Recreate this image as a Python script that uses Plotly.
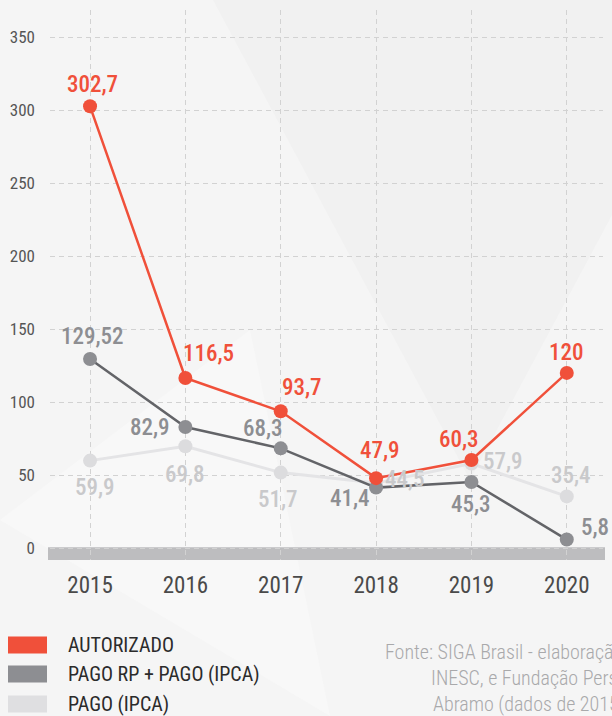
import plotly.graph_objects as go

W, H = 612, 716
ML, MR, MT, MB = 50, 9, 10, 156

anos = [2015, 2016, 2017, 2018, 2019, 2020]
autorizado = [302.7, 116.5, 93.7, 47.9, 60.3, 120]
pago_rp = [129.52, 82.9, 68.3, 41.4, 45.3, 5.8]
pago_ipca = [59.9, 69.8, 51.7, 44.5, 57.9, 35.4]
y_ticks = [0, 50, 100, 150, 200, 250, 300, 350]

FONT = "Roboto Condensed, Liberation Sans Narrow, DejaVu Sans Condensed, sans-serif"
RED = "#f0503a"
DARK_LINE = "#636468"
DARK_MK = "#8d8e92"
LIGHT_LINE = "#e4e4e6"
LIGHT_MK = "#dcdcde"


def px(x):
    return (x - ML) / (W - ML - MR)


def py(y):
    return (H - MB - y) / (H - MT - MB)


def fmt(v):
    return ("%g" % v).replace(".", ",")


fig = go.Figure()

series = [
    ("PAGO (IPCA)", pago_ipca, LIGHT_LINE, LIGHT_MK, 3),
    ("PAGO RP + PAGO (IPCA)", pago_rp, DARK_LINE, DARK_MK, 2.5),
    ("AUTORIZADO", autorizado, RED, RED, 2.5),
]
for name, vals, lc, mc, lw in series:
    fig.add_trace(go.Scatter(
        x=anos, y=vals, name=name, mode="lines+markers",
        line=dict(color=lc, width=lw),
        marker=dict(color=mc, size=14),
        showlegend=False, hoverinfo="skip",
    ))

# label offsets (dx, dy in pixels, screen down positive)
offsets = {
    "AUTORIZADO": [(2, -22), (23, -25), (21, -24), (4, -28), (-12, -21), (0, -20)],
    "PAGO RP + PAGO (IPCA)": [(2, -23), (-35, 0), (-18, -20), (-26, 11), (0, 23), (28, -12)],
    "PAGO (IPCA)": [(5, 27), (0, 28), (-3, 27), (29, -4), (32, -2), (4, -21)],
}
label_colors = {"AUTORIZADO": RED, "PAGO RP + PAGO (IPCA)": "#8d8e92", "PAGO (IPCA)": "#c9c9cb"}
annotations = []
for name, vals, lc, mc, lw in series:
    for a, v, (dx, dy) in zip(anos, vals, offsets[name]):
        annotations.append(dict(
            x=a, y=v, xref="x", yref="y", text=fmt(v), showarrow=False,
            xshift=dx, yshift=-dy,
            font=dict(family=FONT, size=23, color=label_colors[name], weight=500),
        ))

# legend
leg = [("AUTORIZADO", RED, 645), ("PAGO RP + PAGO (IPCA)", "#8d8e92", 674), ("PAGO (IPCA)", "#dfdfe1", 704)]
shapes = []
for name, c, yc in leg:
    shapes.append(dict(type="rect", xref="paper", yref="paper",
                       x0=px(8), x1=px(47), y0=py(yc - 8.5), y1=py(yc + 8.5),
                       fillcolor=c, line=dict(width=0)))
    annotations.append(dict(x=px(66), y=py(yc), xref="paper", yref="paper", text=name,
                            showarrow=False, xanchor="left", yanchor="middle",
                            font=dict(family=FONT, size=20, color="#2b2b2b")))

fonte = [("Fonte: SIGA Brasil - elaboração", 383, 652),
         ("INESC, e Fundação Perseu", 429, 678),
         ("Abramo (dados de 2015-2020)", 431, 704)]
for t, x0, yc in fonte:
    annotations.append(dict(x=px(x0), y=py(yc), xref="paper", yref="paper", text=t,
                            showarrow=False, xanchor="left", yanchor="middle",
                            font=dict(family=FONT, size=20, color="#a9a9ab", weight=300)))

# subtle background facets
shapes.insert(0, dict(type="path", xref="paper", yref="paper", layer="below",
                      path="M %f,%f L %f,%f L %f,%f L %f,%f Z" % (
                          px(213), py(0), px(W), py(0), px(W), py(215), px(470), py(480)),
                      fillcolor="#f1f1f1", line=dict(width=0)))
shapes.insert(1, dict(type="path", xref="paper", yref="paper", layer="below",
                      path="M %f,%f L %f,%f L %f,%f Z" % (
                          px(0), py(520), px(250), py(330), px(330), py(716)),
                      fillcolor="#f8f8f8", line=dict(width=0)))

# baseline bar
shapes.append(dict(type="rect", xref="paper", yref="y", layer="between",
                   x0=px(48), x1=px(605), y0=-8.2, y1=0.5,
                   fillcolor="#bdbdbf", line=dict(width=0)))

fig.update_layout(
    width=W, height=H,
    margin=dict(l=ML, r=MR, t=MT, b=MB),
    paper_bgcolor="#f5f5f5", plot_bgcolor="rgba(0,0,0,0)",
    shapes=shapes, annotations=annotations,
    font=dict(family=FONT),
    xaxis=dict(
        range=[2014.58, 2020.38], tickvals=anos, ticktext=[str(a) for a in anos],
        showgrid=True, gridcolor="#d2d2d2", gridwidth=1, griddash="5px,4px",
        zeroline=False, showline=False, ticks="",
        tickfont=dict(family=FONT, size=23, color="#4a4a4a"),
        ticklabelstandoff=9,
    ),
    yaxis=dict(
        range=[-8.2, 368.7], tickvals=y_ticks,
        showgrid=True, gridcolor="#d2d2d2", gridwidth=1, griddash="5px,4px",
        zeroline=False, showline=False, ticks="",
        tickfont=dict(family=FONT, size=17, color="#555555"),
        ticklabelstandoff=14,
    ),
)

fig.write_html("out.html", config={"displayModeBar": False},
               post_script="document.body.style.margin='0';document.body.style.background='#f5f5f5';")
